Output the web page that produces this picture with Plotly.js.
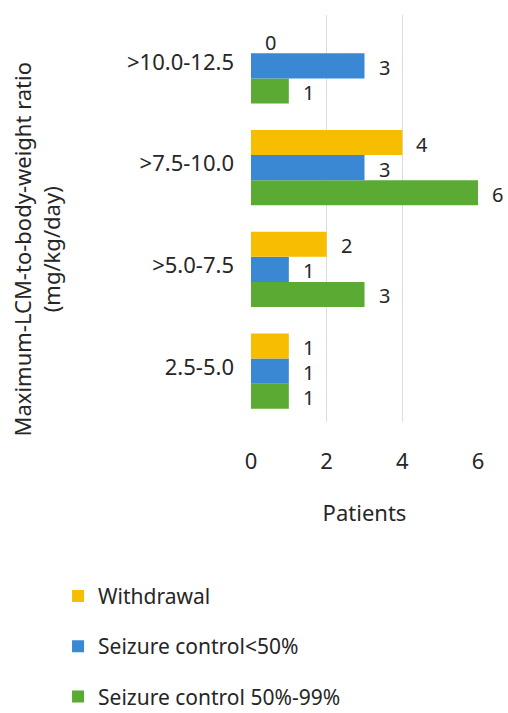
<!DOCTYPE html>
<html>
<head>
<meta charset="utf-8">
<script src="https://cdn.plot.ly/plotly-3.0.1.min.js"></script>
<style>html,body{margin:0;padding:0;background:#fff;}#chart{width:508px;height:713px;}</style>
</head>
<body>
<div id="chart"></div>
<script>
// Data
var categories = ["2.5-5.0", ">5.0-7.5", ">7.5-10.0", ">10.0-12.5"];
var withdrawal = [1, 2, 4, 0];
var seizureLt50 = [1, 1, 3, 3];
var seizure5099 = [1, 3, 6, 1];
var seriesNames = ["Withdrawal", "Seizure control<50%", "Seizure control 50%-99%"];
var xTicks = [0, 2, 4, 6];

var FONT = "Noto Sans, Open Sans, sans-serif";
var FS = 22;
var TXT = "#262626";
var colors = {w: "#F7BD00", b: "#3A87D3", g: "#5BAA34"};

// traces bottom-to-top within a group: green, blue, yellow
var series = [
  {name: seriesNames[2], vals: seizure5099, color: colors.g, rank: 3, shift: -25},
  {name: seriesNames[1], vals: seizureLt50, color: colors.b, rank: 2, shift: 0},
  {name: seriesNames[0], vals: withdrawal, color: colors.w, rank: 1, shift: 25}
];

var traces = series.map(function(s){
  return {
    type: "bar", orientation: "h",
    y: categories, x: s.vals, name: s.name,
    legendgroup: s.name, legendrank: s.rank,
    marker: {color: s.color, line: {width: 0}},
    hoverinfo: "skip"
  };
});

var annotations = [];
series.forEach(function(s){
  s.vals.forEach(function(v, i){
    annotations.push({
      x: v, y: categories[i], xref: "x", yref: "y",
      text: String(v), showarrow: false,
      xanchor: "left", yanchor: "middle",
      xshift: 13, yshift: s.shift - 1,
      height: 22, borderpad: 0,
      font: {family: FONT, size: FS - 2, color: TXT}
    });
  });
});

annotations.push({
  xref: "paper", yref: "paper", x: -0.945, y: 0.425,
  text: "Maximum-LCM-to-body-weight ratio<br>(mg/kg/day)",
  textangle: -90, showarrow: false, xanchor: "center", yanchor: "middle",
  font: {family: FONT, size: FS, color: TXT}
});

var layout = {
  width: 508, height: 713,
  margin: {l: 251, r: 30, t: 15, b: 291, pad: 0, autoexpand: false},
  paper_bgcolor: "#fff", plot_bgcolor: "#fff",
  font: {family: FONT, size: FS, color: TXT},
  barmode: "group", bargap: 0.26, bargroupgap: 0,
  showlegend: true,
  xaxis: {
    range: [0, 6], tickvals: xTicks, ticktext: xTicks.map(String),
    showgrid: true, gridcolor: "#D8DDE7", gridwidth: 1.5,
    zeroline: false, showline: false, ticks: "",
    ticklabelstandoff: 24,
    tickfont: {family: FONT, size: FS, color: TXT},
    title: {text: "Patients", font: {family: FONT, size: FS, color: TXT}, standoff: 31},
    automargin: false, fixedrange: true
  },
  yaxis: {
    type: "category", categoryorder: "array", categoryarray: categories,
    showgrid: false, zeroline: false, showline: false, ticks: "",
    ticklabelstandoff: 16, ticklabelshift: -4,
    tickfont: {family: FONT, size: FS, color: TXT},
    automargin: false, fixedrange: true
  },
  legend: {
    orientation: "v", x: -0.85, xanchor: "left", y: -0.378, yanchor: "top",
    traceorder: "grouped", tracegroupgap: 20,
    font: {family: FONT, size: FS - 1, color: TXT},
    itemwidth: 30, bgcolor: "rgba(0,0,0,0)"
  },
  annotations: annotations
};

Plotly.newPlot("chart", traces, layout, {displayModeBar: false, staticPlot: true});
</script>
</body>
</html>
